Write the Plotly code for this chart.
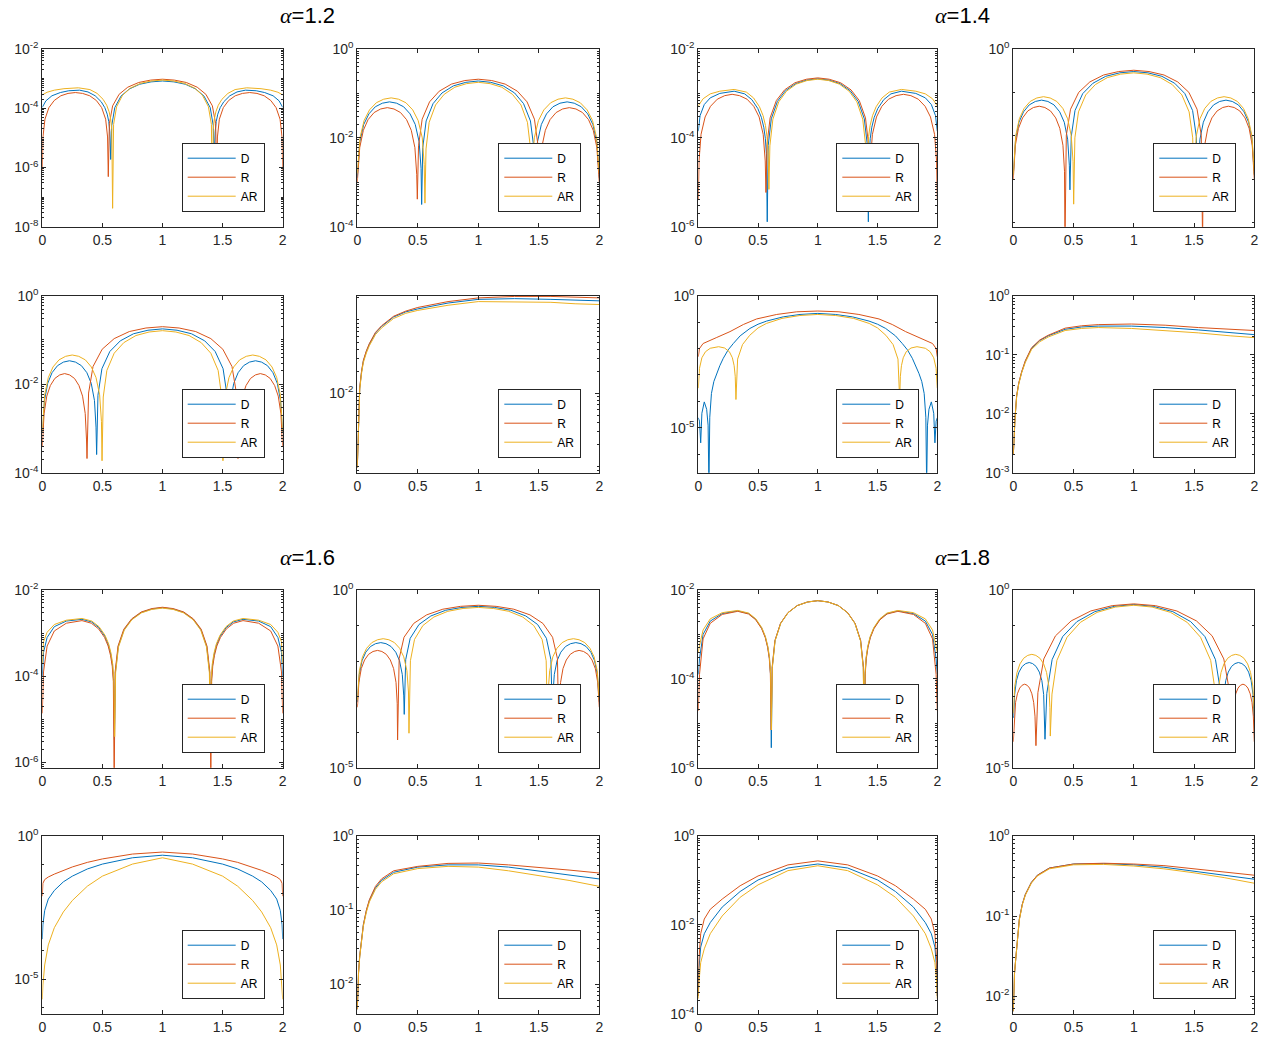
import math
import plotly.graph_objects as go

# ---------------- data (x, log10 of value) ----------------
# Panel A: alpha=1.2, row1 left
A_D_x = [0,0.03,0.08,0.15,0.22,0.31,0.38,0.44,0.49,0.52,0.54,0.553,0.562,0.569,0.578,0.603,0.655,0.724,0.81,0.905,1.0,1.095,1.19,1.276,1.345,1.397,1.422,1.431,1.438,1.447,1.46,1.48,1.51,1.56,1.62,1.69,1.78,1.85,1.92,1.97,2.0]
A_D_e = [-3.97,-3.75,-3.58,-3.47,-3.41,-3.39,-3.45,-3.58,-3.78,-3.98,-4.2,-4.45,-4.8,-5.73,-4.58,-3.98,-3.59,-3.35,-3.19,-3.11,-3.08,-3.11,-3.19,-3.35,-3.59,-3.98,-4.58,-5.73,-4.8,-4.45,-4.2,-3.98,-3.78,-3.58,-3.45,-3.39,-3.41,-3.47,-3.58,-3.75,-3.97]
A_R_x = [0,0.0055,0.022,0.055,0.099,0.154,0.214,0.275,0.335,0.395,0.45,0.494,0.527,0.543,0.549,0.558,0.585,0.639,0.711,0.802,0.901,1.0,1.099,1.198,1.289,1.361,1.415,1.442,1.451,1.457,1.473,1.506,1.55,1.605,1.665,1.725,1.786,1.846,1.901,1.945,1.978,1.9945,2.0]
A_R_e = [-6.09,-4.97,-4.37,-3.98,-3.74,-3.58,-3.5,-3.47,-3.5,-3.58,-3.74,-3.98,-4.37,-4.97,-6.31,-4.52,-3.92,-3.53,-3.29,-3.13,-3.05,-3.02,-3.05,-3.13,-3.29,-3.53,-3.92,-4.52,-6.31,-4.97,-4.37,-3.98,-3.74,-3.58,-3.5,-3.47,-3.5,-3.58,-3.74,-3.98,-4.37,-4.97,-6.09]
A_AR_x = [0,0.04,0.1,0.18,0.3,0.396,0.456,0.506,0.536,0.556,0.569,0.578,0.585,0.593,0.618,0.668,0.734,0.817,0.909,1.0,1.091,1.183,1.266,1.332,1.382,1.407,1.415,1.422,1.431,1.444,1.464,1.494,1.544,1.604,1.7,1.82,1.9,1.96,2.0]
A_AR_e = [-3.55,-3.46,-3.39,-3.34,-3.31,-3.37,-3.5,-3.7,-3.9,-4.12,-4.37,-4.72,-7.38,-4.55,-3.95,-3.56,-3.32,-3.16,-3.08,-3.05,-3.08,-3.16,-3.32,-3.56,-3.95,-4.55,-7.38,-4.72,-4.37,-4.12,-3.9,-3.7,-3.5,-3.37,-3.31,-3.34,-3.39,-3.46,-3.55]

# Panel B: alpha=1.2, row1 right
B_D_x = [0,.005,.021,.053,.096,.149,.207,.266,.325,.383,.436,.479,.511,.527,.532,.541,.569,.626,.700,.794,.897,1.0,1.103,1.206,1.300,1.374,1.431,1.459,1.468,1.473,1.489,1.521,1.564,1.617,1.675,1.734,1.793,1.851,1.904,1.947,1.979,1.995,2.0]
B_D_e = [-2.9,-2.69,-2.09,-1.70,-1.46,-1.30,-1.22,-1.19,-1.22,-1.30,-1.46,-1.70,-2.09,-2.69,-3.5,-2.22,-1.62,-1.23,-0.99,-0.83,-0.75,-0.72,-0.75,-0.83,-0.99,-1.23,-1.62,-2.22,-3.5,-2.69,-2.09,-1.70,-1.46,-1.30,-1.22,-1.19,-1.22,-1.30,-1.46,-1.70,-2.09,-2.69,-2.9]
B_R_x = [0,.005,.020,.050,.089,.139,.193,.248,.303,.357,.407,.446,.476,.491,.496,.506,.536,.597,.677,.778,.889,1.0,1.111,1.222,1.323,1.403,1.464,1.494,1.504,1.509,1.524,1.554,1.593,1.643,1.697,1.752,1.807,1.861,1.911,1.950,1.980,1.995,2.0]
B_R_e = [-3.0,-2.82,-2.22,-1.83,-1.59,-1.43,-1.35,-1.32,-1.35,-1.43,-1.59,-1.83,-2.22,-2.82,-3.38,-2.18,-1.58,-1.19,-0.95,-0.79,-0.71,-0.68,-0.71,-0.79,-0.95,-1.19,-1.58,-2.18,-3.38,-2.82,-2.22,-1.83,-1.59,-1.43,-1.35,-1.32,-1.35,-1.43,-1.59,-1.83,-2.22,-2.82,-3.0]
B_AR_x = [0,.006,.022,.056,.101,.157,.218,.280,.341,.402,.458,.503,.537,.553,.559,.568,.594,.647,.718,.806,.903,1.0,1.097,1.194,1.282,1.353,1.406,1.432,1.441,1.447,1.463,1.497,1.542,1.598,1.659,1.720,1.782,1.843,1.899,1.944,1.978,1.994,2.0]
B_AR_e = [-2.8,-2.6,-2.0,-1.61,-1.37,-1.21,-1.13,-1.10,-1.13,-1.21,-1.37,-1.61,-2.0,-2.6,-3.47,-2.25,-1.65,-1.26,-1.02,-0.86,-0.78,-0.75,-0.78,-0.86,-1.02,-1.26,-1.65,-2.25,-3.47,-2.6,-2.0,-1.61,-1.37,-1.21,-1.13,-1.10,-1.13,-1.21,-1.37,-1.61,-2.0,-2.6,-2.8]

# Panel C: alpha=1.2, row2 left
C_D_x = [0,.005,.018,.045,.081,.127,.176,.226,.276,.325,.371,.407,.434,.447,.452,.463,.496,.562,.649,.759,.879,1.0,1.121,1.241,1.351,1.438,1.504,1.537,1.548,1.553,1.566,1.593,1.629,1.675,1.724,1.774,1.824,1.873,1.919,1.955,1.982,1.995,2.0]
C_D_e = [-3.1,-2.97,-2.37,-1.98,-1.74,-1.58,-1.50,-1.47,-1.50,-1.58,-1.74,-1.98,-2.37,-2.97,-3.59,-2.25,-1.65,-1.26,-1.02,-0.86,-0.78,-0.75,-0.78,-0.86,-1.02,-1.26,-1.65,-2.25,-3.59,-2.97,-2.37,-1.98,-1.74,-1.58,-1.50,-1.47,-1.50,-1.58,-1.74,-1.98,-2.37,-2.97,-3.1]
C_R_x = [0,.004,.015,.037,.067,.104,.145,.186,.227,.268,.305,.335,.357,.368,.372,.385,.422,.498,.598,.724,.862,1.0,1.138,1.276,1.402,1.502,1.578,1.615,1.628,1.632,1.643,1.665,1.695,1.732,1.773,1.814,1.855,1.896,1.933,1.963,1.985,1.996,2.0]
C_R_e = [-3.4,-3.26,-2.66,-2.27,-2.03,-1.87,-1.79,-1.76,-1.79,-1.87,-2.03,-2.27,-2.66,-3.26,-3.68,-2.20,-1.60,-1.21,-0.97,-0.81,-0.73,-0.70,-0.73,-0.81,-0.97,-1.21,-1.60,-2.20,-3.68,-3.26,-2.66,-2.27,-2.03,-1.87,-1.79,-1.76,-1.79,-1.87,-2.03,-2.27,-2.66,-3.26,-3.4]
C_AR_x = [0,.005,.020,.050,.089,.139,.194,.249,.303,.358,.408,.447,.477,.492,.497,.507,.537,.598,.678,.779,.889,1.0,1.111,1.221,1.322,1.402,1.463,1.493,1.503,1.508,1.523,1.553,1.592,1.642,1.697,1.751,1.806,1.861,1.911,1.950,1.980,1.995,2.0]
C_AR_e = [-3.07,-2.84,-2.24,-1.85,-1.61,-1.45,-1.37,-1.34,-1.37,-1.45,-1.61,-1.85,-2.24,-2.84,-3.73,-2.29,-1.69,-1.30,-1.06,-0.90,-0.82,-0.79,-0.82,-0.90,-1.06,-1.30,-1.69,-2.29,-3.73,-2.84,-2.24,-1.85,-1.61,-1.45,-1.37,-1.34,-1.37,-1.45,-1.61,-1.85,-2.24,-2.84,-3.07]

# Panel D: alpha=1.2, row2 right
D_x = [0,0.01,0.02,0.035,0.05,0.075,0.1,0.15,0.2,0.3,0.4,0.5,0.75,1.0,1.3,1.6,1.8,2.0]
D_R_e = [-3.01,-2.25,-1.92,-1.7,-1.55,-1.42,-1.32,-1.17,-1.08,-0.95,-0.88,-0.83,-0.75,-0.70,-0.68,-0.68,-0.69,-0.70]
D_D_e = [-3.01,-2.26,-1.93,-1.71,-1.56,-1.43,-1.33,-1.18,-1.09,-0.96,-0.89,-0.85,-0.77,-0.72,-0.71,-0.72,-0.73,-0.74]
D_AR_e = [-3.01,-2.28,-1.95,-1.73,-1.58,-1.45,-1.35,-1.2,-1.11,-0.98,-0.91,-0.87,-0.8,-0.75,-0.75,-0.76,-0.78,-0.79]

# Panel E: alpha=1.4, row1 left
E_D_x = [0,0.015,0.05,0.1,0.18,0.3,0.388,0.448,0.498,0.528,0.548,0.561,0.570,0.577,.585,.611,.662,.729,.814,.907,1.0,1.093,1.186,1.271,1.338,1.389,1.415,1.423,1.430,1.439,1.452,1.472,1.502,1.552,1.612,1.7,1.82,1.9,1.95,1.985,2.0]
E_D_e = [-3.85,-3.5,-3.25,-3.1,-3.0,-2.95,-3.01,-3.14,-3.34,-3.54,-3.76,-4.01,-4.36,-5.89,-4.17,-3.57,-3.18,-2.94,-2.78,-2.70,-2.67,-2.70,-2.78,-2.94,-3.18,-3.57,-4.17,-5.89,-4.36,-4.01,-3.76,-3.54,-3.34,-3.14,-3.01,-2.95,-3.0,-3.1,-3.25,-3.5,-3.85]
E_R_x = [0,.006,.023,.057,.102,.159,.221,.283,.345,.408,.464,.509,.543,.560,.566,.575,.601,.653,.722,.809,.905,1.0,1.095,1.191,1.278,1.347,1.399,1.425,1.434,1.440,1.457,1.491,1.536,1.592,1.655,1.717,1.779,1.841,1.898,1.943,1.977,1.994,2.0]
E_R_e = [-5.4,-4.52,-3.92,-3.53,-3.29,-3.13,-3.05,-3.02,-3.05,-3.13,-3.29,-3.53,-3.92,-4.52,-5.23,-4.15,-3.55,-3.16,-2.92,-2.76,-2.68,-2.65,-2.68,-2.76,-2.92,-3.16,-3.55,-4.15,-5.23,-4.52,-3.92,-3.53,-3.29,-3.13,-3.05,-3.02,-3.05,-3.13,-3.29,-3.53,-3.92,-4.52,-5.4]
E_AR_x = [0,0.04,0.1,0.18,0.3,0.402,0.462,0.512,0.542,0.562,0.575,0.584,0.591,.599,.624,.673,.738,.820,.910,1.0,1.090,1.180,1.262,1.327,1.376,1.401,1.409,1.416,1.425,1.438,1.458,1.488,1.538,1.598,1.7,1.82,1.9,1.96,2.0]
E_AR_e = [-3.28,-3.12,-3.01,-2.95,-2.91,-2.97,-3.10,-3.30,-3.50,-3.72,-3.97,-4.32,-5.16,-4.18,-3.58,-3.19,-2.95,-2.79,-2.71,-2.68,-2.71,-2.79,-2.95,-3.19,-3.58,-4.18,-5.16,-4.32,-3.97,-3.72,-3.50,-3.30,-3.10,-2.97,-2.91,-2.95,-3.01,-3.12,-3.28]

# Panel F: alpha=1.4, row1 right
F_D_x = [0,.005,.019,.047,.085,.132,.183,.235,.287,.338,.385,.423,.451,.465,.470,.481,.512,.576,.661,.767,.883,1.0,1.117,1.233,1.339,1.424,1.488,1.519,1.530,1.535,1.549,1.577,1.615,1.662,1.713,1.765,1.817,1.868,1.915,1.953,1.981,1.995,2.0]
F_D_e = [-2.9,-2.68,-2.08,-1.69,-1.45,-1.29,-1.21,-1.18,-1.21,-1.29,-1.45,-1.69,-2.08,-2.68,-3.25,-2.02,-1.42,-1.03,-0.79,-0.63,-0.55,-0.52,-0.55,-0.63,-0.79,-1.03,-1.42,-2.02,-3.25,-2.68,-2.08,-1.69,-1.45,-1.29,-1.21,-1.18,-1.21,-1.29,-1.45,-1.69,-2.08,-2.68,-2.9]
F_R_x = [0,.004,.017,.043,.077,.120,.167,.215,.262,.309,.352,.386,.412,.425,.429,.440,.475,.543,.635,.749,.874,1.0,1.126,1.251,1.365,1.457,1.525,1.560,1.571,1.575,1.588,1.614,1.648,1.691,1.738,1.785,1.833,1.880,1.923,1.957,1.983,1.996,2.0]
F_R_e = [-3.0,-2.82,-2.22,-1.83,-1.59,-1.43,-1.35,-1.32,-1.35,-1.43,-1.59,-1.83,-2.22,-2.82,-4.5,-1.99,-1.39,-1.00,-0.76,-0.60,-0.52,-0.49,-0.52,-0.60,-0.76,-1.00,-1.39,-1.99,-4.5,-2.82,-2.22,-1.83,-1.59,-1.43,-1.35,-1.32,-1.35,-1.43,-1.59,-1.83,-2.22,-2.82,-3.0]
F_AR_x = [0,.005,.020,.050,.090,.140,.195,.251,.306,.361,.411,.451,.481,.496,.501,.511,.541,.601,.681,.780,.890,1.0,1.110,1.220,1.319,1.399,1.459,1.489,1.499,1.504,1.519,1.549,1.589,1.639,1.694,1.749,1.805,1.860,1.910,1.950,1.980,1.995,2.0]
F_AR_e = [-2.9,-2.60,-2.00,-1.61,-1.37,-1.21,-1.13,-1.10,-1.13,-1.21,-1.37,-1.61,-2.00,-2.60,-3.58,-2.05,-1.45,-1.06,-0.82,-0.66,-0.58,-0.55,-0.58,-0.66,-0.82,-1.06,-1.45,-2.05,-3.58,-2.60,-2.00,-1.61,-1.37,-1.21,-1.13,-1.10,-1.13,-1.21,-1.37,-1.61,-2.00,-2.60,-2.9]

# Panel G: alpha=1.4, row2 left
G_D_x = [0,0.01,0.02,0.03,0.05,0.07,0.082,0.089,0.096,0.11,0.13,0.153,0.18,0.209,0.25,0.293,0.35,0.432,0.5,0.572,0.711,0.851,1.0,1.149,1.289,1.428,1.5,1.568,1.65,1.707,1.75,1.791,1.82,1.847,1.87,1.89,1.904,1.911,1.918,1.93,1.95,1.97,1.98,1.99,2.0]
G_D_e = [-4.62,-4.75,-5.57,-4.45,-4.02,-4.3,-4.9,-7.2,-4.6,-3.7,-3.25,-2.95,-2.65,-2.37,-2.05,-1.81,-1.52,-1.24,-1.08,-0.96,-0.80,-0.71,-0.67,-0.71,-0.80,-0.96,-1.08,-1.24,-1.52,-1.81,-2.05,-2.37,-2.65,-2.95,-3.25,-3.7,-4.6,-7.2,-4.9,-4.3,-4.02,-4.45,-5.57,-4.75,-4.62]
G_R_x = [0,0.01,0.04,0.1,0.15,0.265,0.377,0.488,0.656,0.823,1.0,1.177,1.344,1.512,1.623,1.735,1.85,1.9,1.96,1.99,2.0]
G_R_e = [-2.31,-2.0,-1.81,-1.7,-1.59,-1.36,-1.09,-0.88,-0.71,-0.61,-0.58,-0.61,-0.71,-0.88,-1.09,-1.36,-1.59,-1.7,-1.81,-2.0,-2.31]
G_AR_x = [0,0.01,0.03,0.06,0.1,0.17,0.22,0.26,0.285,0.3,0.309,0.315,0.329,0.37,0.43,0.5,0.57,0.7,0.85,1.0,1.15,1.3,1.43,1.5,1.57,1.63,1.671,1.685,1.691,1.7,1.715,1.74,1.78,1.83,1.9,1.94,1.97,1.99,2.0]
G_AR_e = [-3.5,-2.75,-2.35,-2.12,-1.99,-1.93,-1.98,-2.12,-2.35,-2.65,-3.05,-3.93,-2.4,-1.85,-1.5,-1.22,-1.05,-0.86,-0.75,-0.71,-0.75,-0.86,-1.05,-1.22,-1.5,-1.85,-2.4,-3.93,-3.05,-2.65,-2.35,-2.12,-1.98,-1.93,-1.99,-2.12,-2.35,-2.75,-3.5]

# Panel H: alpha=1.4, row2 right
H_x = [0,0.005,0.014,0.028,0.045,0.069,0.1,0.152,0.22,0.29,0.43,0.567,0.705,0.98,1.26,1.535,1.8,2.0]
H_R_e = [-2.7,-2.4,-2.08,-1.69,-1.48,-1.29,-1.1,-0.88,-0.75,-0.67,-0.55,-0.51,-0.49,-0.48,-0.5,-0.54,-0.57,-0.59]
H_D_e = [-2.7,-2.4,-2.08,-1.7,-1.49,-1.3,-1.11,-0.89,-0.76,-0.68,-0.57,-0.53,-0.515,-0.515,-0.54,-0.58,-0.63,-0.66]
H_AR_e = [-2.7,-2.41,-2.09,-1.71,-1.5,-1.31,-1.13,-0.91,-0.78,-0.7,-0.59,-0.555,-0.54,-0.555,-0.59,-0.63,-0.68,-0.71]

# Panel I: alpha=1.6, row3 left
I_D_x = [0,0.01,0.04,0.1,0.2,0.33,0.41,0.47,0.52,0.55,0.57,0.584,0.593,0.6,.608,.632,.68,.744,.824,.912,1.0,1.088,1.176,1.256,1.32,1.368,1.392,1.4,1.407,1.416,1.43,1.45,1.48,1.53,1.59,1.67,1.8,1.9,1.96,1.99,2.0]
I_D_e = [-4.0,-3.45,-3.1,-2.85,-2.72,-2.68,-2.74,-2.87,-3.07,-3.27,-3.49,-3.74,-4.09,-5.47,-3.91,-3.31,-2.92,-2.68,-2.52,-2.44,-2.41,-2.44,-2.52,-2.68,-2.92,-3.31,-3.91,-5.47,-4.09,-3.74,-3.49,-3.27,-3.07,-2.87,-2.74,-2.68,-2.72,-2.85,-3.1,-3.45,-4.0]
I_R_x = [0,0.01,0.04,0.1,0.2,0.33,0.408,0.468,0.518,0.548,0.568,0.582,0.591,0.598,.606,.630,.678,.743,.823,.912,1.0,1.088,1.177,1.257,1.322,1.370,1.394,1.402,1.409,1.418,1.432,1.452,1.482,1.532,1.592,1.67,1.8,1.9,1.96,1.99,2.0]
I_R_e = [-4.86,-3.9,-3.3,-2.95,-2.77,-2.71,-2.77,-2.90,-3.10,-3.30,-3.52,-3.77,-4.12,-6.5,-3.90,-3.30,-2.91,-2.67,-2.51,-2.43,-2.40,-2.43,-2.51,-2.67,-2.91,-3.30,-3.90,-6.5,-4.12,-3.77,-3.52,-3.30,-3.10,-2.90,-2.77,-2.71,-2.77,-2.95,-3.3,-3.9,-4.86]
I_AR_x = [0,0.01,0.04,0.1,0.2,0.33,0.412,0.472,0.522,0.552,0.572,0.586,0.595,0.602,.610,.634,.682,.745,.825,.912,1.0,1.088,1.175,1.255,1.318,1.366,1.390,1.398,1.405,1.414,1.428,1.448,1.478,1.528,1.588,1.67,1.8,1.9,1.96,1.99,2.0]
I_AR_e = [-3.7,-3.2,-2.98,-2.8,-2.7,-2.66,-2.72,-2.85,-3.05,-3.25,-3.47,-3.72,-4.07,-5.40,-3.92,-3.32,-2.93,-2.69,-2.53,-2.45,-2.42,-2.45,-2.53,-2.69,-2.93,-3.32,-3.92,-5.40,-4.07,-3.72,-3.47,-3.25,-3.05,-2.85,-2.72,-2.66,-2.7,-2.8,-2.98,-3.2,-3.7]

# Panel J: alpha=1.6, row3 right
J_D_x = [0,.004,.016,.039,.070,.109,.151,.194,.237,.279,.318,.349,.372,.384,.388,.400,.437,.510,.608,.731,.865,1.0,1.135,1.269,1.392,1.490,1.563,1.600,1.612,1.616,1.628,1.651,1.682,1.721,1.763,1.806,1.849,1.891,1.930,1.961,1.984,1.996,2.0]
J_D_e = [-3.15,-2.98,-2.38,-1.99,-1.75,-1.59,-1.51,-1.48,-1.51,-1.59,-1.75,-1.99,-2.38,-2.98,-3.50,-1.96,-1.36,-0.97,-0.73,-0.57,-0.49,-0.46,-0.49,-0.57,-0.73,-0.97,-1.36,-1.96,-3.50,-2.98,-2.38,-1.99,-1.75,-1.59,-1.51,-1.48,-1.51,-1.59,-1.75,-1.99,-2.38,-2.98,-3.15]
J_R_x = [0,.003,.013,.033,.060,.093,.130,.167,.203,.240,.273,.300,.320,.330,.333,.346,.386,.466,.573,.707,.853,1.0,1.147,1.293,1.427,1.534,1.614,1.654,1.667,1.670,1.680,1.700,1.727,1.760,1.797,1.833,1.870,1.907,1.940,1.967,1.987,1.997,2.0]
J_R_e = [-3.3,-3.2,-2.6,-2.21,-1.97,-1.81,-1.73,-1.70,-1.73,-1.81,-1.97,-2.21,-2.6,-3.2,-4.22,-1.93,-1.33,-0.94,-0.70,-0.54,-0.46,-0.43,-0.46,-0.54,-0.70,-0.94,-1.33,-1.93,-4.22,-3.2,-2.6,-2.21,-1.97,-1.81,-1.73,-1.70,-1.73,-1.81,-1.97,-2.21,-2.6,-3.2,-3.3]
J_AR_x = [0,.004,.017,.043,.077,.120,.167,.214,.261,.307,.350,.384,.410,.423,.427,.439,.473,.542,.633,.748,.874,1.0,1.126,1.252,1.367,1.458,1.527,1.561,1.573,1.577,1.590,1.616,1.650,1.693,1.739,1.786,1.833,1.880,1.923,1.957,1.983,1.996,2.0]
J_AR_e = [-3.1,-2.87,-2.27,-1.88,-1.64,-1.48,-1.40,-1.37,-1.40,-1.48,-1.64,-1.88,-2.27,-2.87,-4.03,-1.99,-1.39,-1.00,-0.76,-0.60,-0.52,-0.49,-0.52,-0.60,-0.76,-1.00,-1.39,-1.99,-4.03,-2.87,-2.27,-1.88,-1.64,-1.48,-1.40,-1.37,-1.40,-1.48,-1.64,-1.88,-2.27,-2.87,-3.1]

# Panel K: alpha=1.8, row3 left
K_D_x = [0,0.01,0.04,0.1,0.2,0.33,0.421,0.481,0.531,0.561,0.581,0.595,0.604,0.611,.619,.642,.689,.751,.829,.914,1.0,1.086,1.171,1.249,1.311,1.358,1.381,1.389,1.396,1.405,1.419,1.439,1.469,1.519,1.579,1.67,1.8,1.9,1.96,1.99,2.0]
K_D_e = [-3.9,-3.55,-3.0,-2.7,-2.53,-2.47,-2.53,-2.66,-2.86,-3.06,-3.28,-3.53,-3.88,-5.55,-3.74,-3.14,-2.75,-2.51,-2.35,-2.27,-2.24,-2.27,-2.35,-2.51,-2.75,-3.14,-3.74,-5.55,-3.88,-3.53,-3.28,-3.06,-2.86,-2.66,-2.53,-2.47,-2.53,-2.7,-3.0,-3.55,-3.9]
K_R_x = [0,0.01,0.04,0.1,0.2,0.33,0.42,0.48,0.53,0.56,0.58,0.594,0.603,0.610,.618,.641,.688,.750,.828,.914,1.0,1.086,1.172,1.25,1.312,1.359,1.382,1.39,1.397,1.406,1.42,1.44,1.47,1.52,1.58,1.67,1.8,1.9,1.96,1.99,2.0]
K_R_e = [-4.72,-3.9,-3.1,-2.75,-2.55,-2.48,-2.54,-2.67,-2.87,-3.07,-3.29,-3.54,-3.89,-5.15,-3.74,-3.14,-2.75,-2.51,-2.35,-2.27,-2.24,-2.27,-2.35,-2.51,-2.75,-3.14,-3.74,-5.15,-3.89,-3.54,-3.29,-3.07,-2.87,-2.67,-2.54,-2.48,-2.55,-2.75,-3.1,-3.9,-4.72]
K_AR_x = [0,0.01,0.04,0.1,0.2,0.33,0.422,0.482,0.532,0.562,0.582,0.596,0.605,0.612,.620,.643,.690,.752,.829,.915,1.0,1.085,1.171,1.248,1.31,1.357,1.38,1.388,1.395,1.404,1.418,1.438,1.468,1.518,1.578,1.67,1.8,1.9,1.96,1.99,2.0]
K_AR_e = [-3.4,-3.25,-2.9,-2.65,-2.51,-2.46,-2.52,-2.65,-2.85,-3.05,-3.27,-3.52,-3.87,-5.15,-3.74,-3.14,-2.75,-2.51,-2.35,-2.27,-2.24,-2.27,-2.35,-2.51,-2.75,-3.14,-3.74,-5.15,-3.87,-3.52,-3.27,-3.05,-2.85,-2.65,-2.52,-2.46,-2.51,-2.65,-2.9,-3.25,-3.4]

# Panel L: alpha=1.8, row3 right
L_D_x = [0,.003,.011,.026,.047,.074,.103,.132,.160,.189,.216,.237,.252,.260,.263,.278,.322,.410,.528,.676,.838,1.0,1.162,1.324,1.472,1.590,1.678,1.722,1.737,1.740,1.748,1.763,1.784,1.811,1.840,1.868,1.897,1.926,1.953,1.974,1.989,1.997,2.0]
L_D_e = [-3.6,-3.54,-2.94,-2.55,-2.31,-2.15,-2.07,-2.04,-2.07,-2.15,-2.31,-2.55,-2.94,-3.54,-4.2,-2.91,-1.96,-1.31,-0.89,-0.61,-0.46,-0.41,-0.46,-0.61,-0.89,-1.31,-1.96,-2.91,-4.2,-3.54,-2.94,-2.55,-2.31,-2.15,-2.07,-2.04,-2.07,-2.15,-2.31,-2.55,-2.94,-3.54,-3.6]
L_R_x = [0,.002,.008,.019,.034,.053,.073,.094,.115,.135,.154,.169,.180,.186,.188,.204,.253,.350,.480,.643,.821,1.0,1.179,1.357,1.520,1.650,1.747,1.796,1.812,1.814,1.820,1.831,1.846,1.865,1.885,1.906,1.927,1.947,1.966,1.981,1.992,1.998,2.0]
L_R_e = [-4.27,-4.15,-3.55,-3.16,-2.92,-2.76,-2.68,-2.65,-2.68,-2.76,-2.92,-3.16,-3.55,-4.15,-4.38,-2.89,-1.94,-1.29,-0.87,-0.59,-0.44,-0.39,-0.44,-0.59,-0.87,-1.29,-1.94,-2.89,-4.38,-4.15,-3.55,-3.16,-2.92,-2.76,-2.68,-2.65,-2.68,-2.76,-2.92,-3.16,-3.55,-4.15,-4.27]
L_AR_x = [0,.003,.012,.031,.055,.086,.120,.154,.187,.221,.252,.276,.295,.304,.307,.321,.362,.446,.557,.695,.848,1.0,1.152,1.305,1.443,1.554,1.638,1.679,1.693,1.696,1.705,1.724,1.748,1.779,1.813,1.846,1.880,1.914,1.945,1.969,1.988,1.997,2.0]
L_AR_e = [-3.47,-3.31,-2.71,-2.32,-2.08,-1.92,-1.84,-1.81,-1.84,-1.92,-2.08,-2.32,-2.71,-3.31,-4.11,-2.93,-1.98,-1.33,-0.91,-0.63,-0.48,-0.43,-0.48,-0.63,-0.91,-1.33,-1.98,-2.93,-4.11,-3.31,-2.71,-2.32,-2.08,-1.92,-1.84,-1.81,-1.84,-1.92,-2.08,-2.32,-2.71,-3.31,-3.47]

# Panel M: alpha=1.6, row4 left
M_x = [0,0.005,0.02,0.05,0.1,0.175,0.25,0.375,0.5,0.75,1.0,1.25,1.5,1.625,1.75,1.825,1.9,1.95,1.98,1.995,2.0]
M_R_e = [-2.1,-1.65,-1.52,-1.43,-1.33,-1.2,-1.08,-0.92,-0.8,-0.63,-0.56,-0.63,-0.8,-0.92,-1.08,-1.2,-1.33,-1.43,-1.52,-1.65,-2.1]
M_D_e = [-3.6,-3.1,-2.6,-2.2,-1.9,-1.6,-1.4,-1.15,-0.98,-0.76,-0.67,-0.76,-0.98,-1.15,-1.4,-1.6,-1.9,-2.2,-2.6,-3.1,-3.6]
M_AR_e = [-5.7,-5.2,-4.5,-3.8,-3.2,-2.65,-2.25,-1.75,-1.4,-0.98,-0.76,-0.98,-1.4,-1.75,-2.25,-2.65,-3.2,-3.8,-4.5,-5.2,-5.7]

# Panel N: alpha=1.6, row4 right
N_x = [0,0.005,0.01,0.02,0.035,0.05,0.075,0.1,0.15,0.2,0.3,0.5,0.75,1.0,1.25,1.5,1.75,2.0]
N_R_e = [-2.34,-2.05,-1.85,-1.62,-1.38,-1.2,-1.0,-0.86,-0.68,-0.58,-0.47,-0.41,-0.37,-0.365,-0.39,-0.42,-0.46,-0.5]
N_D_e = [-2.34,-2.05,-1.85,-1.62,-1.38,-1.2,-1.01,-0.87,-0.7,-0.6,-0.49,-0.42,-0.39,-0.39,-0.42,-0.47,-0.52,-0.58]
N_AR_e = [-2.34,-2.06,-1.86,-1.63,-1.39,-1.22,-1.03,-0.89,-0.72,-0.62,-0.51,-0.44,-0.41,-0.42,-0.47,-0.53,-0.6,-0.68]

# Panel O: alpha=1.8, row4 left
O_x = [0,0.005,0.02,0.05,0.1,0.2,0.35,0.5,0.75,1.0,1.25,1.5,1.65,1.8,1.9,1.95,1.98,1.995,2.0]
O_R_e = [-3.6,-2.8,-2.2,-1.87,-1.65,-1.42,-1.12,-0.9,-0.65,-0.56,-0.65,-0.9,-1.12,-1.42,-1.65,-1.87,-2.2,-2.8,-3.6]
O_D_e = [-3.6,-3.0,-2.5,-2.2,-1.95,-1.6,-1.25,-0.99,-0.72,-0.63,-0.72,-0.99,-1.25,-1.6,-1.95,-2.2,-2.5,-3.0,-3.6]
O_AR_e = [-3.66,-3.3,-2.85,-2.54,-2.2,-1.8,-1.38,-1.1,-0.78,-0.67,-0.78,-1.1,-1.38,-1.8,-2.2,-2.54,-2.85,-3.3,-3.66]

# Panel P: alpha=1.8, row4 right
P_x = [0,0.005,0.01,0.02,0.035,0.05,0.075,0.1,0.15,0.2,0.3,0.5,0.75,1.0,1.25,1.5,1.75,2.0]
P_R_e = [-2.19,-1.9,-1.72,-1.54,-1.25,-1.04,-0.85,-0.73,-0.58,-0.49,-0.40,-0.35,-0.34,-0.35,-0.37,-0.41,-0.45,-0.49]
P_D_e = [-2.19,-1.9,-1.72,-1.54,-1.25,-1.04,-0.85,-0.73,-0.58,-0.49,-0.40,-0.35,-0.345,-0.36,-0.39,-0.44,-0.49,-0.54]
P_AR_e = [-2.19,-1.9,-1.72,-1.54,-1.25,-1.05,-0.86,-0.74,-0.59,-0.5,-0.41,-0.36,-0.355,-0.375,-0.41,-0.46,-0.52,-0.59]

series_names = ["D", "R", "AR"]
titles = ["α=1.2", "α=1.4", "α=1.6", "α=1.8"]
x_tick_vals = [0, 0.5, 1, 1.5, 2]
x_tick_text = ["0", "0.5", "1", "1.5", "2"]

# ---------------- layout / styling ----------------
COLORS = {"D": "#0072BD", "R": "#D95319", "AR": "#EDB120"}
AX = "#262626"
FONT = "Liberation Sans, Arial, Helvetica, sans-serif"
W, H = 1269, 1042
col_px = [(42.3, 282.7), (357.3, 599.3), (698.3, 937.3), (1013.3, 1254.3)]
row_px = [(49.0, 226.7), (295.7, 472.7), (590.0, 767.7), (836.0, 1013.7)]

# name, row, col, y range (log10), labelled decades, minor style
panels = [
    ("A", 0, 0, (-8, -2), [-8, -6, -4, -2], "fine", (A_D_x, A_D_e), (A_R_x, A_R_e), (A_AR_x, A_AR_e)),
    ("B", 0, 1, (-4, 0), [-4, -2, 0], "fine", (B_D_x, B_D_e), (B_R_x, B_R_e), (B_AR_x, B_AR_e)),
    ("C", 1, 0, (-4, 0), [-4, -2, 0], "fine", (C_D_x, C_D_e), (C_R_x, C_R_e), (C_AR_x, C_AR_e)),
    ("D", 1, 1, (-3.08, -0.67), [-2], "fine", (D_x, D_D_e), (D_x, D_R_e), (D_x, D_AR_e)),
    ("E", 0, 2, (-6, -2), [-6, -4, -2], "fine", (E_D_x, E_D_e), (E_R_x, E_R_e), (E_AR_x, E_AR_e)),
    ("F", 0, 3, (-4.1, 0), [0], "coarse", (F_D_x, F_D_e), (F_R_x, F_R_e), (F_AR_x, F_AR_e)),
    ("G", 1, 2, (-6.7, 0), [0, -5], "coarse", (G_D_x, G_D_e), (G_R_x, G_R_e), (G_AR_x, G_AR_e)),
    ("H", 1, 3, (-3, 0), [-3, -2, -1, 0], "fine", (H_x, H_D_e), (H_x, H_R_e), (H_x, H_AR_e)),
    ("I", 2, 0, (-6.12, -2), [-6, -4, -2], "fine", (I_D_x, I_D_e), (I_R_x, I_R_e), (I_AR_x, I_AR_e)),
    ("J", 2, 1, (-5, 0), [-5, 0], "coarse", (J_D_x, J_D_e), (J_R_x, J_R_e), (J_AR_x, J_AR_e)),
    ("K", 2, 2, (-6, -2), [-6, -4, -2], "fine", (K_D_x, K_D_e), (K_R_x, K_R_e), (K_AR_x, K_AR_e)),
    ("L", 2, 3, (-5, 0), [-5, 0], "coarse", (L_D_x, L_D_e), (L_R_x, L_R_e), (L_AR_x, L_AR_e)),
    ("M", 3, 0, (-6.2, 0), [-5, 0], "coarse", (M_x, M_D_e), (M_x, M_R_e), (M_x, M_AR_e)),
    ("N", 3, 1, (-2.4, 0), [-2, -1, 0], "fine", (N_x, N_D_e), (N_x, N_R_e), (N_x, N_AR_e)),
    ("O", 3, 2, (-4, 0), [-4, -2, 0], "fine", (O_x, O_D_e), (O_x, O_R_e), (O_x, O_AR_e)),
    ("P", 3, 3, (-2.22, 0), [-2, -1, 0], "fine", (P_x, P_D_e), (P_x, P_R_e), (P_x, P_AR_e)),
]

fig = go.Figure()
layout = dict(width=W, height=H, margin=dict(l=0, r=0, t=0, b=0, autoexpand=False),
              paper_bgcolor="white", plot_bgcolor="white", showlegend=True)
annotations = []

for i, (name, r, c, yr, major, mstyle, sD, sR, sAR) in enumerate(panels, start=1):
    sfx = "" if i == 1 else str(i)
    xl, xr = col_px[c]
    yt, yb = row_px[r]
    lo, hi = yr
    minor = []
    for k in range(math.floor(lo) - 1, math.ceil(hi) + 1):
        if k not in major and lo <= k <= hi:
            minor.append(10.0 ** k)
        if mstyle == "fine":
            for m in range(2, 10):
                v = m * 10.0 ** k
                if 10 ** lo <= v <= 10 ** hi:
                    minor.append(v)
    layout["xaxis" + sfx] = dict(
        domain=[xl / W, xr / W], anchor="y" + sfx, range=[0, 2], automargin=False,
        tickmode="array", tickvals=x_tick_vals, ticktext=x_tick_text,
        ticks="inside", ticklen=4, tickcolor=AX, showline=True, linecolor=AX,
        linewidth=1, mirror="ticks", showgrid=False, zeroline=False,
        tickfont=dict(family=FONT, size=14, color=AX))
    layout["yaxis" + sfx] = dict(
        domain=[1 - yb / H, 1 - yt / H], anchor="x" + sfx, type="log", range=[lo, hi],
        automargin=False,
        tickmode="array", tickvals=[10.0 ** k for k in major],
        ticktext=["10<sup>%d</sup>" % k for k in major],
        ticks="inside", ticklen=4, tickcolor=AX, showline=True, linecolor=AX,
        linewidth=1, mirror="ticks", showgrid=False, zeroline=False,
        tickfont=dict(family=FONT, size=14, color=AX),
        minor=dict(tickmode="array", tickvals=minor, ticks="inside", ticklen=2, tickcolor=AX, showgrid=False))
    lg = "legend" + sfx
    layout[lg] = dict(x=(xr - 18) / W, y=1 - (yb - 15) / H, xanchor="right", yanchor="bottom",
                      bgcolor="white", bordercolor=AX, borderwidth=1, tracegroupgap=0,
                      font=dict(family=FONT, size=12, color="black"), itemwidth=48)
    for sname, (sx, se) in zip(series_names, (sD, sR, sAR)):
        assert len(sx) == len(se), (name, sname, len(sx), len(se))
        fig.add_trace(go.Scatter(
            x=sx, y=[10.0 ** v for v in se], mode="lines", name=sname,
            line=dict(color=COLORS[sname], width=1), legend=lg,
            xaxis="x" + sfx, yaxis="y" + sfx, showlegend=True, hoverinfo="skip"))

title_pos = [(307, 16), (962, 16), (307, 557), (962, 557)]
for t, (px, py) in zip(titles, title_pos):
    txt = '<span style="font-family:\'Liberation Serif\',\'DejaVu Serif\',serif"><i>α</i></span>' + t[1:]
    annotations.append(dict(x=px / W, y=1 - py / H, xref="paper", yref="paper", text=txt,
                            showarrow=False, xanchor="center", yanchor="middle",
                            font=dict(family=FONT, size=22, color="black")))
layout["annotations"] = annotations
fig.update_layout(**layout)
fig.write_html("out.html")
